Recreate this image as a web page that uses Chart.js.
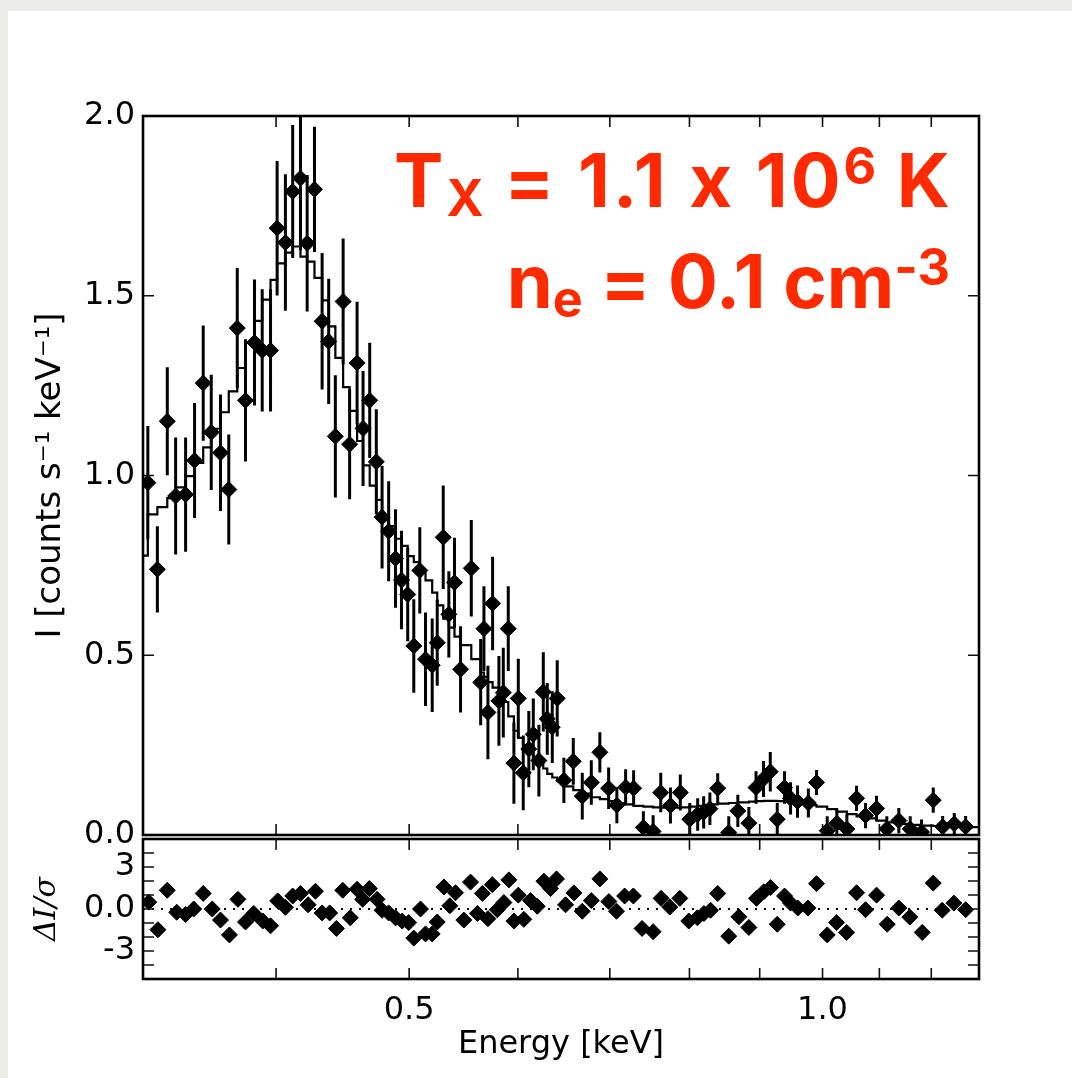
<!DOCTYPE html>
<html>
<head>
<meta charset="utf-8">
<script src="https://cdn.jsdelivr.net/npm/chart.js@4.4.0/dist/chart.umd.min.js"></script>
<style>
  html, body { margin: 0; padding: 0; background: #fff; }
  #page { position: relative; width: 1072px; height: 1078px; overflow: hidden; background: #fff; }
  .strip { position: absolute; background: #ebebe8; }
  canvas { position: absolute; left: 0; }
  .note { position: absolute; right: 119px; color: #ff2a00; font-family: Inter, "Open Sans", sans-serif;
          font-weight: 700; font-size: 74px; line-height: 1; white-space: nowrap;
          font-feature-settings: "calt" 0, "liga" 0; letter-spacing: 3px; }
  .note.second { right: 122px; letter-spacing: 0; }
  .note sub { font-size: 0.68em; vertical-align: -9px; line-height: 0; letter-spacing: 0; }
  .note sup { font-size: 0.68em; vertical-align: 23px; line-height: 0; letter-spacing: 0; }
</style>
</head>
<body>
<div id="page">
  <div class="strip" style="left:0;top:0;width:8px;height:1078px"></div>
  <div class="strip" style="left:0;top:0;width:1072px;height:11px"></div>
  <canvas id="main" width="1072" height="860" style="top:0"></canvas>
  <canvas id="resid" width="1072" height="248" style="top:830px"></canvas>
  <div class="note" style="top:143px">T<sub>X</sub> = 1.1 x 10<sup>6</sup> K</div>
  <div class="note second" style="top:244px">n<sub>e</sub> = 0.1 cm<sup>-3</sup></div>
</div>
<script>
// energy range of the x axis (keV)
var xMin = 0.32;
var xMax = 1.30;

// spectrum: bin energy (keV), intensity, 1-sigma error, model
var energy = [0.3226, 0.3278, 0.3333, 0.3380, 0.3437, 0.3489, 0.3540, 0.3588, 0.3644, 0.3695,
  0.3748, 0.3800, 0.3858, 0.3908, 0.3963, 0.4007, 0.4063, 0.4113, 0.4167, 0.4214,
  0.4266, 0.4321, 0.4369, 0.4418, 0.4476, 0.4525, 0.4582, 0.4628, 0.4680, 0.4732,
  0.4778, 0.4831, 0.4887, 0.4936, 0.4988, 0.5039, 0.5090, 0.5139, 0.5197, 0.5241,
  0.5294, 0.5344, 0.5395, 0.5450, 0.5549, 0.5637, 0.5668, 0.5706, 0.5751, 0.5812,
  0.5855, 0.5904, 0.5960, 0.6004, 0.6054, 0.6111, 0.6157, 0.6215, 0.6261, 0.6303,
  0.6356, 0.6409, 0.6481, 0.6584, 0.6684, 0.6786, 0.6884, 0.6986, 0.7083, 0.7188,
  0.7285, 0.7405, 0.7527, 0.7624, 0.7749, 0.7878, 0.8004, 0.8111, 0.8193, 0.8279,
  0.8388, 0.8545, 0.8676, 0.8838, 0.8945, 0.9058, 0.9161, 0.9269, 0.9383, 0.9478,
  0.9589, 0.9765, 0.9900, 1.0079, 1.0243, 1.0416, 1.0587, 1.0748, 1.0948, 1.1138,
  1.1365, 1.1584, 1.1806, 1.2040, 1.2232, 1.2472, 1.2712];
var flux = [0.980, 0.739, 1.151, 0.943, 0.947, 1.042, 1.257, 1.120, 1.063, 0.961,
  1.410, 1.209, 1.370, 1.348, 1.348, 1.688, 1.648, 1.790, 1.827, 1.646,
  1.796, 1.429, 1.373, 1.109, 1.484, 1.087, 1.313, 1.131, 1.209, 1.038,
  0.884, 0.845, 0.769, 0.709, 0.669, 0.526, 0.736, 0.489, 0.472, 0.535,
  0.828, 0.614, 0.702, 0.461, 0.742, 0.425, 0.574, 0.341, 0.644, 0.373,
  0.396, 0.574, 0.200, 0.380, 0.173, 0.239, 0.280, 0.207, 0.398, 0.323,
  0.300, 0.380, 0.152, 0.205, 0.108, 0.146, 0.230, 0.130, 0.083, 0.133,
  0.130, 0.021, 0.010, 0.118, 0.082, 0.118, 0.044, 0.057, 0.063, 0.073,
  0.130, 0.007, 0.067, 0.033, 0.132, 0.156, 0.176, 0.044, 0.132, 0.102,
  0.093, 0.089, 0.146, 0.012, 0.033, 0.017, 0.102, 0.054, 0.074, 0.017,
  0.040, 0.017, 0.008, 0.097, 0.023, 0.031, 0.023];
var fluxErr = [0.158, 0.120, 0.150, 0.163, 0.159, 0.160, 0.160, 0.160, 0.162, 0.153,
  0.167, 0.170, 0.175, 0.170, 0.170, 0.187, 0.190, 0.185, 0.200, 0.190,
  0.174, 0.190, 0.174, 0.170, 0.175, 0.153, 0.170, 0.160, 0.160, 0.146,
  0.143, 0.139, 0.137, 0.137, 0.130, 0.130, 0.120, 0.130, 0.130, 0.120,
  0.144, 0.120, 0.125, 0.120, 0.134, 0.120, 0.118, 0.130, 0.130, 0.125,
  0.125, 0.118, 0.113, 0.110, 0.104, 0.106, 0.100, 0.100, 0.110, 0.100,
  0.100, 0.106, 0.063, 0.065, 0.065, 0.062, 0.056, 0.058, 0.050, 0.050,
  0.050, 0.045, 0.045, 0.055, 0.050, 0.050, 0.045, 0.045, 0.045, 0.045,
  0.042, 0.045, 0.045, 0.045, 0.045, 0.050, 0.055, 0.045, 0.045, 0.045,
  0.045, 0.040, 0.035, 0.040, 0.040, 0.040, 0.035, 0.035, 0.035, 0.035,
  0.035, 0.035, 0.035, 0.035, 0.030, 0.030, 0.030];

// folded model, one level per bin (drawn as steps), plus the two axis ends
var modelEnergy = [0.3200].concat(energy, [1.3000]);
var modelFlux = [0.777, 0.892, 0.912, 0.937, 0.967, 0.998, 1.035, 1.078, 1.130, 1.176, 1.234,
  1.299, 1.369, 1.430, 1.489, 1.544, 1.590, 1.620, 1.637, 1.609, 1.595,
  1.550, 1.487, 1.415, 1.327, 1.246, 1.180, 1.096, 1.028, 0.972, 0.932,
  0.887, 0.859, 0.824, 0.804, 0.776, 0.759, 0.730, 0.708, 0.674, 0.639,
  0.602, 0.577, 0.552, 0.528, 0.489, 0.452, 0.440, 0.425, 0.410, 0.390,
  0.370, 0.330, 0.290, 0.270, 0.250, 0.230, 0.215, 0.200, 0.185, 0.170,
  0.160, 0.150, 0.135, 0.125, 0.115, 0.105, 0.100, 0.094, 0.089, 0.085,
  0.081, 0.079, 0.077, 0.076, 0.076, 0.077, 0.079, 0.081, 0.083, 0.085,
  0.087, 0.089, 0.091, 0.093, 0.094, 0.095, 0.095, 0.094, 0.093, 0.091,
  0.088, 0.083, 0.079, 0.072, 0.065, 0.058, 0.052, 0.046, 0.040, 0.035,
  0.031, 0.028, 0.026, 0.025, 0.024, 0.023, 0.022, 0.021];

// residuals (data - model) / sigma
var residEnergy = [0.3231, 0.3281, 0.3333, 0.3386, 0.3437, 0.3484, 0.3540, 0.3594, 0.3644, 0.3699,
  0.3752, 0.3800, 0.3853, 0.3912, 0.3963, 0.4011, 0.4063, 0.4113, 0.4167, 0.4221,
  0.4273, 0.4321, 0.4376, 0.4426, 0.4473, 0.4530, 0.4582, 0.4625, 0.4677, 0.4738,
  0.4778, 0.4831, 0.4887, 0.4942, 0.4996, 0.5039, 0.5096, 0.5139, 0.5197, 0.5241,
  0.5300, 0.5353, 0.5404, 0.5480, 0.5542, 0.5606, 0.5653, 0.5706, 0.5748, 0.5796,
  0.5861, 0.5910, 0.5960, 0.6004, 0.6060, 0.6129, 0.6198, 0.6267, 0.6338, 0.6401,
  0.6499, 0.6591, 0.6684, 0.6786, 0.6884, 0.6989, 0.7079, 0.7176, 0.7282, 0.7389,
  0.7527, 0.7629, 0.7740, 0.7872, 0.7991, 0.8107, 0.8197, 0.8288, 0.8388, 0.8545,
  0.8691, 0.8838, 0.8952, 0.9062, 0.9165, 0.9269, 0.9383, 0.9478, 0.9594, 0.9757,
  0.9900, 1.0079, 1.0238, 1.0411, 1.0587, 1.0748, 1.0948, 1.1145, 1.1365, 1.1576,
  1.1820, 1.2040, 1.2222, 1.2463, 1.2712];
var resid = [0.49, -1.48, 1.34, -0.23, -0.39, 0.00, 1.11, 0.00, -0.79, -1.85,
  0.69, -0.93, -0.32, -0.86, -1.20, 0.58, 0.12, 0.93, 1.11, 0.30,
  1.27, -0.28, -0.28, -1.39, 1.34, -0.63, 1.41, 0.69, 1.46, 0.69,
  -0.09, -0.28, -0.63, -0.86, -0.97, -2.08, 0.00, -1.78, -1.78, -0.93,
  1.57, 0.23, 1.16, -0.79, 1.92, -0.32, 1.11, -0.69, 1.74, -0.05,
  0.46, 2.08, -0.86, 0.99, -0.74, 0.60, 0.19, 1.99, 1.46, 2.15,
  0.30, 1.15, -0.16, 0.60, 2.15, 0.53, -0.16, 0.93, 0.93, -1.39,
  -1.62, 0.76, 0.14, 0.76, -0.86, -0.63, -0.32, -0.09, 1.11, -1.94,
  -0.56, -1.32, 0.76, 1.23, 1.53, -1.09, 0.93, 0.42, 0.07, 0.07,
  1.81, -1.85, -0.97, -1.67, 1.16, -0.05, 0.99, -1.09, 0.07, -0.58,
  -1.67, 1.85, -0.09, 0.42, -0.05];

// tick positions and labels
var xMinorTicks = [0.4, 0.5, 0.6, 0.7, 0.8, 0.9, 1.0, 1.1, 1.2];
var xLabelTicks = [0.5, 1.0];
var yMainTicks = [0.5, 1.0, 1.5];
var yResidTicks = [-4, -3, -2, -1, 0, 1, 2, 3, 4];
var yResidLabels = [-3, 0, 3];

function pts(xs, ys) {
  return xs.map(function (x, i) { return { x: x, y: ys[i] }; });
}

var tickFont = { family: 'DejaVu Sans', size: 32 };

// frame around the plot area with inward ticks on all four sides
var frameTicks = {
  id: 'frameTicks',
  afterDraw: function (chart, args, opts) {
    var ctx = chart.ctx, a = chart.chartArea, sx = chart.scales.x, sy = chart.scales.y;
    var len = 11;
    ctx.save();
    ctx.strokeStyle = '#111';
    ctx.lineWidth = 1.6;
    ctx.beginPath();
    opts.xTicks.forEach(function (v) {
      var x = sx.getPixelForValue(v);
      ctx.moveTo(x, a.top); ctx.lineTo(x, a.top + len);
      ctx.moveTo(x, a.bottom); ctx.lineTo(x, a.bottom - len);
    });
    opts.yTicks.forEach(function (v) {
      var y = sy.getPixelForValue(v);
      ctx.moveTo(a.left, y); ctx.lineTo(a.left + len, y);
      ctx.moveTo(a.right, y); ctx.lineTo(a.right - len, y);
    });
    ctx.stroke();
    ctx.strokeStyle = '#000';
    ctx.lineWidth = 2.6;
    ctx.strokeRect(a.left, a.top, a.right - a.left, a.bottom - a.top);
    ctx.restore();
  }
};

// vertical error bars for the data points
var errorBars = {
  id: 'errorBars',
  beforeDatasetsDraw: function (chart) {
    var ctx = chart.ctx, a = chart.chartArea, sx = chart.scales.x, sy = chart.scales.y;
    ctx.save();
    ctx.beginPath();
    ctx.rect(a.left, a.top, a.right - a.left, a.bottom - a.top);
    ctx.clip();
    ctx.strokeStyle = '#000';
    ctx.lineWidth = 3;
    ctx.beginPath();
    energy.forEach(function (e, i) {
      var x = sx.getPixelForValue(e);
      ctx.moveTo(x, sy.getPixelForValue(flux[i] - fluxErr[i]));
      ctx.lineTo(x, sy.getPixelForValue(flux[i] + fluxErr[i]));
    });
    ctx.stroke();
    ctx.restore();
  }
};

new Chart(document.getElementById('main'), {
  type: 'scatter',
  data: {
    datasets: [{
      data: pts(energy, flux),
      pointStyle: 'rectRot',
      pointRadius: 8,
      backgroundColor: '#000',
      borderColor: '#000',
      borderWidth: 1
    }, {
      type: 'line',
      data: pts(modelEnergy, modelFlux),
      stepped: 'before',
      borderColor: '#000',
      borderWidth: 2.2,
      pointRadius: 0,
      fill: false
    }]
  },
  options: {
    responsive: false,
    animation: false,
    layout: { padding: { left: 0, right: 93, top: 116, bottom: 25 } },
    plugins: {
      legend: { display: false },
      tooltip: { enabled: false },
      frameTicks: { xTicks: xMinorTicks, yTicks: yMainTicks }
    },
    scales: {
      x: { type: 'logarithmic', display: false, min: xMin, max: xMax, bounds: 'data' },
      y: {
        min: 0, max: 2,
        afterFit: function (s) { s.width = 143; s.paddingTop = 0; s.paddingBottom = 0; },
        grid: { display: false, drawTicks: false },
        border: { display: false },
        ticks: { stepSize: 0.5, padding: 8, color: '#000', font: tickFont,
                 callback: function (v) { return Number(v).toFixed(1); } },
        title: { display: true, text: 'I [counts s⁻¹ keV⁻¹]', color: '#000',
                 font: { family: 'DejaVu Sans', size: 34 },
                 padding: { top: 31, bottom: 0 } }
      }
    }
  },
  plugins: [errorBars, frameTicks]
});

new Chart(document.getElementById('resid'), {
  type: 'scatter',
  data: {
    datasets: [{
      data: pts(residEnergy, resid),
      pointStyle: 'rectRot',
      pointRadius: 8,
      backgroundColor: '#000',
      borderColor: '#000',
      borderWidth: 1
    }, {
      type: 'line',
      data: [{ x: xMin, y: 0 }, { x: xMax, y: 0 }],
      borderColor: '#000',
      borderWidth: 2,
      borderDash: [2, 7],
      pointRadius: 0
    }]
  },
  options: {
    responsive: false,
    animation: false,
    layout: { padding: { left: 0, right: 93, top: 5, bottom: 0 } },
    plugins: {
      legend: { display: false },
      tooltip: { enabled: false },
      frameTicks: { xTicks: xMinorTicks, yTicks: yResidTicks }
    },
    scales: {
      x: {
        type: 'logarithmic', min: xMin, max: xMax, bounds: 'data', position: 'bottom',
        afterBuildTicks: function (s) { s.ticks = xLabelTicks.map(function (v) { return { value: v }; }); },
        afterFit: function (s) { s.height = 99; s.paddingLeft = 0; s.paddingRight = 0; },
        grid: { display: false, drawTicks: false },
        border: { display: false },
        ticks: { autoSkip: false, maxRotation: 0, padding: 12, color: '#000', font: tickFont,
                 callback: function (v) { return Number(v).toFixed(1); } },
        title: { display: true, text: 'Energy [keV]', color: '#000', font: tickFont,
                 padding: { top: 0, bottom: 14 } }
      },
      y: {
        min: -5, max: 5,
        afterBuildTicks: function (s) { s.ticks = yResidLabels.map(function (v) { return { value: v }; }); },
        afterFit: function (s) { s.width = 143; s.paddingTop = 0; s.paddingBottom = 0; },
        grid: { display: false, drawTicks: false },
        border: { display: false },
        ticks: { padding: 8, color: '#000', font: tickFont,
                 callback: function (v) { return v === 0 ? '0.0' : String(v); } },
        title: { display: true, text: 'ΔI/σ', color: '#000',
                 font: { family: 'DejaVu Serif', size: 30, style: 'italic' },
                 padding: { top: 29, bottom: 0 } }
      }
    }
  },
  plugins: [frameTicks]
});
</script>
</body>
</html>
